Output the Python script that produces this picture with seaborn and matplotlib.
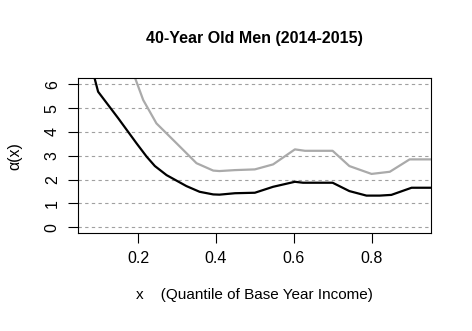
import matplotlib
matplotlib.use("Agg")
import matplotlib.pyplot as plt
import seaborn as sns
import pandas as pd

# curve values
x_black = [0.080, 0.097, 0.149, 0.196, 0.222, 0.243, 0.273, 0.324, 0.358, 0.393, 0.409,
           0.449, 0.500, 0.547, 0.603, 0.624, 0.700, 0.743, 0.787, 0.821, 0.851, 0.903, 0.960]
y_black = [6.75, 5.69, 4.57, 3.52, 2.96, 2.57, 2.19, 1.73, 1.49, 1.38, 1.37,
           1.43, 1.45, 1.70, 1.91, 1.87, 1.87, 1.52, 1.33, 1.33, 1.36, 1.66, 1.66]
x_gray = [0.180, 0.213, 0.247, 0.299, 0.350, 0.393, 0.409, 0.449, 0.500, 0.547, 0.603,
          0.629, 0.700, 0.743, 0.800, 0.847, 0.898, 0.960]
y_gray = [6.80, 5.34, 4.36, 3.52, 2.69, 2.38, 2.36, 2.40, 2.43, 2.64, 3.27,
          3.21, 3.21, 2.57, 2.24, 2.33, 2.85, 2.85]
x_ticks = [0.2, 0.4, 0.6, 0.8]
y_ticks = [0, 1, 2, 3, 4, 5, 6]

sns.set_style("white")
plt.rcParams['font.family'] = ['Liberation Sans', 'DejaVu Sans']
plt.rcParams['text.color'] = 'black'
plt.rcParams['axes.labelcolor'] = 'black'
plt.rcParams['xtick.color'] = 'black'
plt.rcParams['ytick.color'] = 'black'

fig = plt.figure(figsize=(4.72, 3.31), dpi=100)
ax = fig.add_axes([0.165, 0.296, 0.749, 0.468])

for y in y_ticks:
    ax.axhline(y, color="#A0A0A0", lw=0.8, ls=(0, (3, 3)), zorder=0)

sns.lineplot(x=x_gray, y=y_gray, sort=False, color="#AAAAAA", lw=1.6, ax=ax)
sns.lineplot(x=x_black, y=y_black, sort=False, color="black", lw=1.6, ax=ax)

ax.set_xlim(0.045, 0.954)
ax.set_ylim(-0.24, 6.26)
ax.set_xticks(x_ticks)
ax.set_xticklabels([f"{v:.1f}" for v in x_ticks], fontsize=11.5)
ax.set_yticks(y_ticks)
ax.set_yticklabels([str(v) for v in y_ticks], fontsize=11.5, rotation=90, va="center")
ax.tick_params(axis="both", direction="out", length=7, width=0.8,
               left=True, bottom=True, pad=6)
for s in ax.spines.values():
    s.set_color("black")
    s.set_linewidth(0.8)

ax.set_title("40-Year Old Men (2014-2015)", fontsize=11.5, fontweight="bold", pad=25)
ax.set_xlabel("x    (Quantile of Base Year Income)", fontsize=11, labelpad=16)
ax.set_ylabel("α(x)", fontsize=11.5, labelpad=16)

fig.savefig("out.png", dpi=100)
